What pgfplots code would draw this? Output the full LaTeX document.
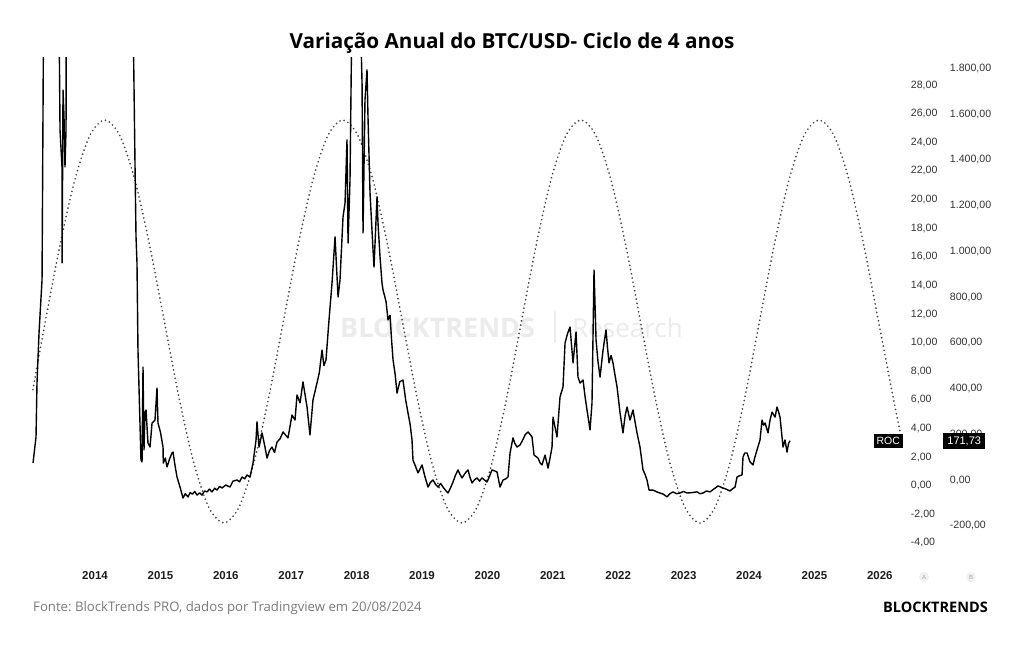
\documentclass[border=0pt]{standalone}
\usepackage{pgfplots}
\pgfplotsset{compat=1.18}
\usepackage{fontspec}
\setmainfont{Open Sans}
\newfontfamily\lib{Liberation Sans}
\frenchspacing
\definecolor{tickc}{HTML}{333333}
\definecolor{yearc}{HTML}{1E1E1E}
\definecolor{foot}{HTML}{7A7A7A}
\definecolor{wm}{HTML}{EBEBEB}
\definecolor{sinec}{HTML}{444444}

\pgfplotstableread{
x y
2013.050 395
2013.240 693
2013.4675 1030
2013.695 1316
2013.9225 1507
2014.150 1574
2014.3775 1507
2014.605 1316
2014.8325 1030
2015.060 693
2015.2875 356
2015.515 70
2015.7425 -121
2015.970 -188
2016.1975 -121
2016.425 70
2016.6525 356
2016.880 693
2017.1075 1030
2017.335 1316
2017.5625 1507
2017.790 1574
2018.0175 1507
2018.245 1316
2018.4725 1030
2018.700 693
2018.9275 356
2019.155 70
2019.3825 -121
2019.610 -188
2019.8375 -121
2020.065 70
2020.2925 356
2020.520 693
2020.7475 1030
2020.975 1316
2021.2025 1507
2021.430 1574
2021.6575 1507
2021.885 1316
2022.1125 1030
2022.340 693
2022.5675 356
2022.795 70
2023.0225 -121
2023.250 -188
2023.4775 -121
2023.705 70
2023.9325 356
2024.160 693
2024.3875 1030
2024.615 1316
2024.8425 1507
2025.070 1574
2025.2975 1507
2025.525 1316
2025.7525 1030
2025.980 693
2026.2075 356
2026.310 210
}\cycle

\pgfplotstableread{
x y
2013.052 74
2013.098 188
2013.113 424
2013.144 643
2013.190 875
2013.225 2600
2013.300 3000
2013.445 2200
2013.465 1531
2013.495 1369
2013.497 949
2013.511 1705
2013.526 1587
2013.541 1369
2013.557 1531
2013.560 2200
2014.000 4000
2014.575 2200
2014.612 1369
2014.627 1063
2014.642 949
2014.657 568
2014.703 87
2014.719 79
2014.734 494
2014.749 131
2014.765 297
2014.780 306
2014.810 162
2014.841 144
2014.872 249
2014.917 262
2014.948 402
2014.963 249
2015.000 210
2015.040 144
2015.044 74
2015.075 96
2015.101 57
2015.140 92
2015.177 118
2015.193 122
2015.225 60
2015.254 13
2015.300 -31
2015.346 -79
2015.380 -60
2015.422 -74
2015.455 -55
2015.490 -62
2015.525 -50
2015.560 -66
2015.600 -56
2015.636 -66
2015.675 -48
2015.713 -52
2015.750 -40
2015.789 -52
2015.830 -36
2015.865 -44
2015.905 -28
2015.942 -35
2016.000 -22
2016.064 -31
2016.110 -5
2016.171 0
2016.210 -8
2016.248 13
2016.290 5
2016.324 22
2016.370 13
2016.416 74
2016.462 175
2016.477 254
2016.508 144
2016.554 206
2016.599 144
2016.630 96
2016.670 130
2016.706 144
2016.745 120
2016.783 166
2016.830 180
2016.875 210
2016.951 184
2017.012 284
2017.058 262
2017.089 372
2017.135 337
2017.180 429
2017.242 319
2017.287 197
2017.333 350
2017.394 424
2017.430 470
2017.471 568
2017.500 500
2017.532 525
2017.578 700
2017.624 861
2017.670 1063
2017.716 800
2017.746 875
2017.792 1150
2017.823 1211
2017.853 1487
2017.869 1036
2017.899 1312
2017.930 2100
2017.990 2300
2018.052 2100
2018.083 1736
2018.098 1080
2018.128 1662
2018.159 1793
2018.174 1587
2018.205 1255
2018.251 1006
2018.266 931
2018.312 1238
2018.327 1124
2018.358 975
2018.388 861
2018.404 831
2018.450 780
2018.480 700
2018.511 720
2018.535 610
2018.557 525
2018.590 460
2018.618 380
2018.660 430
2018.709 437
2018.750 350
2018.786 293
2018.820 240
2018.847 175
2018.862 87
2018.900 60
2018.939 31
2019.000 66
2019.046 13
2019.092 -31
2019.130 -10
2019.168 0
2019.210 -20
2019.245 -31
2019.285 -15
2019.321 -31
2019.360 -45
2019.398 -57
2019.435 -35
2019.474 -9
2019.510 20
2019.550 44
2019.580 25
2019.612 9
2019.660 30
2019.703 44
2019.735 10
2019.765 -13
2019.800 0
2019.841 9
2019.880 -5
2019.917 9
2019.955 0
2019.994 -9
2020.030 15
2020.070 44
2020.110 40
2020.147 35
2020.193 -31
2020.239 0
2020.280 5
2020.315 13
2020.346 118
2020.391 184
2020.420 160
2020.453 144
2020.498 153
2020.540 175
2020.575 197
2020.621 210
2020.650 200
2020.682 188
2020.713 109
2020.774 96
2020.805 75
2020.835 66
2020.881 109
2020.927 52
2020.960 100
2020.988 144
2021.003 275
2021.035 230
2021.064 188
2021.110 363
2021.156 407
2021.187 599
2021.225 640
2021.263 669
2021.309 512
2021.355 647
2021.385 450
2021.416 424
2021.462 437
2021.495 360
2021.523 306
2021.569 219
2021.599 337
2021.630 918
2021.661 612
2021.690 520
2021.722 450
2021.768 568
2021.813 656
2021.836 580
2021.859 512
2021.890 545
2021.920 512
2021.950 460
2021.982 407
2022.028 293
2022.073 206
2022.105 280
2022.135 319
2022.180 262
2022.226 306
2022.260 250
2022.287 206
2022.333 144
2022.379 44
2022.410 25
2022.440 0
2022.471 -44
2022.532 -44
2022.590 -52
2022.639 -57
2022.690 -62
2022.746 -74
2022.790 -60
2022.838 -52
2022.890 -60
2022.945 -57
2023.000 -50
2023.052 -57
2023.130 -55
2023.205 -52
2023.250 -60
2023.297 -57
2023.350 -48
2023.404 -52
2023.460 -40
2023.526 -26
2023.602 -35
2023.650 -40
2023.709 -48
2023.750 -38
2023.786 -31
2023.817 13
2023.850 18
2023.893 22
2023.908 101
2023.935 118
2023.970 118
2024.015 79
2024.061 66
2024.090 100
2024.122 131
2024.168 175
2024.199 262
2024.222 240
2024.245 249
2024.291 206
2024.320 260
2024.352 297
2024.398 275
2024.428 319
2024.450 300
2024.474 275
2024.520 144
2024.550 175
2024.581 122
2024.605 160
2024.627 171.73
}\roc

\begin{document}
\begin{tikzpicture}
\begin{scope}[x=1pt,y=1pt]
\path[use as bounding box] (0,0) rectangle (1024,645);
% watermark
\node[anchor=base west, inner sep=0, text=wm, font=\fontsize{27}{27}\selectfont\bfseries] at (340,307) {BLOCKTRENDS};
\draw[wm, line width=1.2pt] (555,334) -- (555,302);
\node[anchor=base west, inner sep=0, text=wm, font=\fontsize{26}{26}\selectfont] at (572,307) {Research};
% title
\node[anchor=base, inner sep=0, font=\fontsize{20.7}{20.7}\selectfont\bfseries] at (512,596) {Variação Anual do BTC/USD- Ciclo de 4 anos};
\end{scope}

% inner (A) scale
\begin{axis}[
  at={(30pt,85pt)}, anchor=south west, scale only axis,
  width=875pt, height=502pt,
  xmin=2013.006, xmax=2026.385, ymin=-5.19, ymax=29.89,
  axis line style={draw=none}, tick style={draw=none},
  xtick=\empty,
  ytick={-4,-2,...,28},
  yticklabel pos=right,
  yticklabel style={anchor=west, xshift=2.4pt, text=tickc, font=\lib\fontsize{10.6}{10.6}\selectfont,
    /pgf/number format/.cd, fixed, fixed zerofill, precision=2, use comma, 1000 sep={.}, assume math mode=true},
]
\end{axis}

% outer (B) scale with data
\begin{axis}[
  at={(30pt,85pt)}, anchor=south west, scale only axis,
  width=875pt, height=502pt,
  xmin=2013.006, xmax=2026.385, ymin=-349.8, ymax=1845,
  axis line style={draw=none}, tick style={draw=none},
  xtick={2014,2015,2016,2017,2018,2019,2020,2021,2022,2023,2024,2025,2026},
  xticklabels={2014,2015,2016,2017,2018,2019,2020,2021,2022,2023,2024,2025,2026},
  xticklabel style={yshift=-7.5pt, text=yearc, font=\lib\bfseries\fontsize{11.5}{11.5}\selectfont},
  ytick={-200,0,...,1800},
  yticklabel pos=right,
  yticklabel style={anchor=west, xshift=41.4pt, text=tickc, font=\lib\fontsize{10.6}{10.6}\selectfont,
    /pgf/number format/.cd, fixed, fixed zerofill, precision=2, use comma, 1000 sep={.}, assume math mode=true},
  clip=true,
]
\addplot[sinec, line width=1.9pt, line cap=round, dash pattern=on 0pt off 4.3pt, smooth] table[x=x,y=y] {\cycle};
\addplot[black, line width=1.4pt, line join=round] table[x=x,y=y] {\roc};
\node[anchor=east, fill=black, text=white, inner xsep=3pt, minimum height=14pt, font=\lib\fontsize{10.5}{10.5}\selectfont] at (axis cs:2026.355,171.73) {ROC};
\end{axis}

\begin{scope}[x=1pt,y=1pt]
% value label on B axis
\node[anchor=west, fill=black, text=white, inner xsep=2pt, minimum height=14pt, minimum width=42pt, font=\lib\fontsize{11}{11}\selectfont] at (943,204) {171,73};
% A / B circles
\fill[gray!12] (924,68) circle (5);
\node[font=\lib\fontsize{6}{6}\selectfont, text=gray!70] at (924,68) {A};
\fill[gray!12] (971,68) circle (5);
\node[font=\lib\fontsize{6}{6}\selectfont, text=gray!70] at (971,68) {B};
% footer
\node[anchor=base west, inner sep=0, text=foot, font=\fontsize{13.2}{13.2}\selectfont] at (33,34) {Fonte: BlockTrends PRO, dados por Tradingview em 20/08/2024};
\node[anchor=base east, inner sep=0, font=\fontsize{14.5}{14.5}\selectfont\bfseries] at (988,33) {BLOCKTRENDS};
\end{scope}
\end{tikzpicture}
\end{document}
